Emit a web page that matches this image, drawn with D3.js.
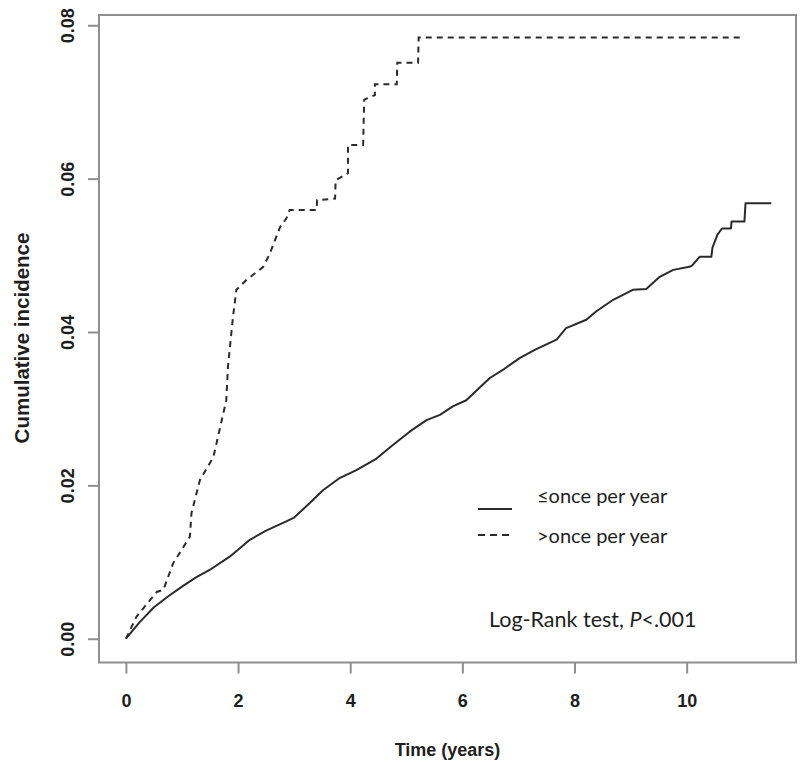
<!DOCTYPE html>
<html>
<head>
<meta charset="utf-8">
<script src="https://cdn.jsdelivr.net/npm/d3@7"></script>
<style>
  html, body { margin: 0; padding: 0; background: #fff; }
  svg { display: block; }
</style>
</head>
<body>
<svg id="chart" width="800" height="762"></svg>
<script>
// ---- data ----
const seriesNames = ["\u2264once per year", ">once per year"];

// solid curve: time (years)
const solidTime = [0, 0.25, 0.5, 0.75, 1.0, 1.25, 1.5, 1.85, 2.0, 2.21, 2.5, 2.86, 3.0, 3.25, 3.52, 3.8,
  4.11, 4.47, 4.75, 5.06, 5.36, 5.6, 5.83, 6.07, 6.3, 6.49, 6.75, 7.02, 7.3, 7.68, 7.85, 8.21, 8.39,
  8.69, 9.04, 9.28, 9.52, 9.76, 10.05, 10.1, 10.23, 10.44, 10.46, 10.55, 10.63, 10.79, 10.8, 11.03,
  11.05, 11.51];
const solidValue = [0, 0.0022, 0.0041, 0.0055, 0.0068, 0.0080, 0.0090, 0.0107, 0.0116, 0.0129, 0.0141,
  0.0153, 0.0158, 0.0175, 0.0194, 0.0209, 0.0220, 0.0235, 0.0252, 0.0270, 0.0285, 0.0292, 0.0303,
  0.0311, 0.0327, 0.0340, 0.0352, 0.0366, 0.0377, 0.0390, 0.0405, 0.0416, 0.0427, 0.0442, 0.0455,
  0.0456, 0.0472, 0.0481, 0.0485, 0.0487, 0.0498, 0.0498, 0.0510, 0.0527, 0.0535, 0.0535, 0.0544,
  0.0544, 0.0568, 0.0568];

// dashed curve
const dashedTime = [0, 0.19, 0.55, 0.67, 0.84, 1.14, 1.17, 1.32, 1.56, 1.79, 1.82, 1.91, 1.97, 2.15,
  2.45, 2.57, 2.75, 2.86, 2.92, 3.40, 3.41, 3.73, 3.74, 3.96, 3.96, 4.23, 4.25, 4.44, 4.44, 4.83,
  4.84, 5.21, 5.22, 10.96];
const dashedValue = [0, 0.0029, 0.0061, 0.0064, 0.0098, 0.0133, 0.0164, 0.0207, 0.0237, 0.0311,
  0.0355, 0.0420, 0.0455, 0.0468, 0.0485, 0.0503, 0.0537, 0.0548, 0.0559, 0.0559, 0.0572, 0.0574,
  0.0598, 0.0607, 0.0644, 0.0644, 0.0703, 0.0709, 0.0723, 0.0723, 0.0751, 0.0751, 0.0784, 0.0784];

const xTicks = [0, 2, 4, 6, 8, 10];
const yTicks = [0, 0.02, 0.04, 0.06, 0.08];
const yTickLabels = ["0.00", "0.02", "0.04", "0.06", "0.08"];
const xTitle = "Time (years)";
const yTitle = "Cumulative incidence";
const testLabel = "Log-Rank test, ";
const testP = "P";
const testValue = "<.001";

// ---- layout ----
const frame = { left: 99, right: 796, top: 15, bottom: 662.5 };
const svg = d3.select("#chart");

const x = d3.scaleLinear().domain([-0.48, 11.95]).range([frame.left, frame.right]);
const y = d3.scaleLinear().domain([-0.0031, 0.08134]).range([frame.bottom, frame.top]);

const frameColor = "#8f8f8f";
const inkColor = "#2b2b2b";
const textColor = "#1e1e1e";
const boldFont = "'Liberation Sans', Arial, sans-serif";
const lightFont = "Lato, 'Open Sans', sans-serif";

// frame
svg.append("rect")
  .attr("x", frame.left).attr("y", frame.top)
  .attr("width", frame.right - frame.left).attr("height", frame.bottom - frame.top)
  .attr("fill", "none").attr("stroke", frameColor).attr("stroke-width", 2);

// x axis
const xAxis = svg.append("g")
  .attr("transform", `translate(0,${frame.bottom})`)
  .call(d3.axisBottom(x).tickValues(xTicks).tickSize(11).tickPadding(21).tickFormat(d3.format("d")));
xAxis.select(".domain").remove();
xAxis.selectAll(".tick line").attr("stroke", frameColor).attr("stroke-width", 2);
xAxis.selectAll(".tick text")
  .attr("fill", textColor).style("font-family", boldFont).style("font-weight", "bold").style("font-size", "18px");

// y axis
const yAxis = svg.append("g")
  .attr("transform", `translate(${frame.left},0)`)
  .call(d3.axisLeft(y).tickValues(yTicks).tickSize(11).tickFormat((d, i) => yTickLabels[i]));
yAxis.select(".domain").remove();
yAxis.selectAll(".tick line").attr("stroke", frameColor).attr("stroke-width", 2);
yAxis.selectAll(".tick text")
  .attr("x", null).attr("dy", null)
  .attr("text-anchor", "middle")
  .attr("transform", "translate(-25,0) rotate(-90)")
  .attr("fill", textColor).style("font-family", boldFont).style("font-weight", "bold").style("font-size", "18px");

// axis titles
svg.append("text")
  .attr("x", (frame.left + frame.right) / 2).attr("y", 756)
  .attr("text-anchor", "middle")
  .attr("fill", textColor).style("font-family", boldFont).style("font-weight", "bold").style("font-size", "18px")
  .text(xTitle);

svg.append("text")
  .attr("transform", "translate(28.5,338) rotate(-90)")
  .attr("text-anchor", "middle")
  .attr("fill", textColor).style("font-family", boldFont).style("font-weight", "bold").style("font-size", "20.5px")
  .text(yTitle);

// curves
const line = d3.line().x(d => x(d[0])).y(d => y(d[1])).curve(d3.curveLinear);
const solidData = solidTime.map((t, i) => [t, solidValue[i]]);
const dashedData = dashedTime.map((t, i) => [t, dashedValue[i]]);

svg.append("path").datum(solidData)
  .attr("d", line).attr("fill", "none").attr("stroke", inkColor).attr("stroke-width", 2)
  .attr("stroke-linejoin", "round");
svg.append("path").datum(dashedData)
  .attr("d", line).attr("fill", "none").attr("stroke", inkColor).attr("stroke-width", 2)
  .attr("stroke-dasharray", "6,5");

// legend
const legend = svg.append("g");
const legendRows = [
  { name: seriesNames[0], dash: null, lineY: 509, textY: 503 },
  { name: seriesNames[1], dash: "7,5", lineY: 535, textY: 543 }
];
legendRows.forEach(r => {
  legend.append("line")
    .attr("x1", 478).attr("x2", 512).attr("y1", r.lineY).attr("y2", r.lineY)
    .attr("stroke", inkColor).attr("stroke-width", 2)
    .attr("stroke-dasharray", r.dash);
  legend.append("text")
    .attr("x", 537).attr("y", r.textY)
    .attr("fill", textColor).style("font-family", lightFont).style("font-size", "20px")
    .text(r.name);
});

const t = svg.append("text")
  .attr("x", 489).attr("y", 626.5)
  .attr("fill", textColor).style("font-family", lightFont).style("font-size", "21.5px");
t.append("tspan").text(testLabel);
t.append("tspan").style("font-style", "italic").text(testP);
t.append("tspan").text(testValue);
</script>
</body>
</html>
